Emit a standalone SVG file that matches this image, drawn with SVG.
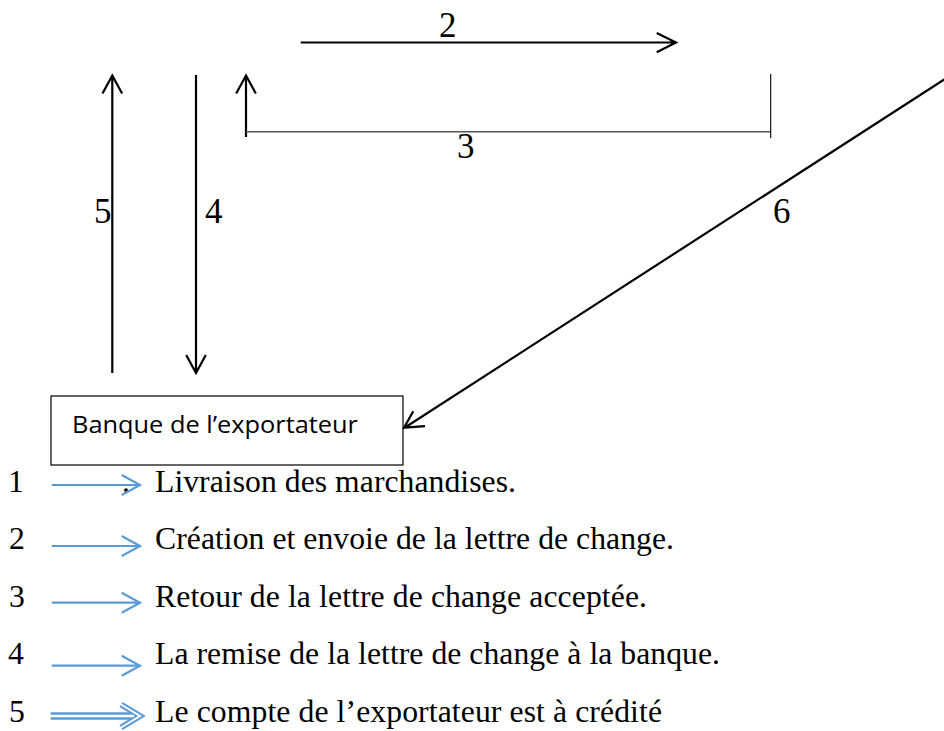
<svg xmlns="http://www.w3.org/2000/svg" width="944" height="731" viewBox="0 0 944 731">
<style>
  .serif { font-family: "Liberation Serif", "Times New Roman", serif; fill: #000; }
  .lbl { font-size: 35px; }
  .leg { font-size: 31.7px; }
  .blk { stroke: #000; stroke-width: 2.2; fill: none; stroke-linecap: butt; }
  .blue { stroke: #5B9BD5; stroke-width: 2.2; fill: none; }
</style>
<rect width="944" height="731" fill="#fff"/>

<g id="bank">
  <rect x="51" y="396" width="352" height="69" fill="#fff" stroke="#000" stroke-width="1.2"/>
  <text x="72" y="433" font-family="'Open Sans', 'Liberation Sans', sans-serif" font-size="23" textLength="286" lengthAdjust="spacingAndGlyphs">Banque de l’exportateur</text>
</g>

<g id="connectors">
  <!-- 5 up -->
  <path class="blk" d="M112.3 373 V76 M102.5 93.5 L112.3 75.5 L122.1 93.5"/>
  <!-- 4 down -->
  <path class="blk" d="M196 75 V372 M186.2 355 L196 373 L205.8 355"/>
  <!-- 3 up and bracket -->
  <path class="blk" d="M246 137 V76 M236.2 93.5 L246 75.5 L255.8 93.5"/>
  <line x1="246" y1="131.7" x2="770.7" y2="131.7" stroke="#555" stroke-width="1.6"/>
  <line x1="770.7" y1="74" x2="770.7" y2="138" stroke="#000" stroke-width="1.1"/>
  <!-- 2 right -->
  <path class="blk" d="M300.7 42.5 H675 M656.7 33 L676 42.5 L656.7 52.3"/>
  <!-- 6 diagonal -->
  <path class="blk" stroke-width="2.5" d="M955 72.5 L405 427.5 M413.3 411.2 L404 427.7 L425 426.2"/>
</g>

<g id="labels" class="serif lbl">
  <text x="439" y="36.7">2</text>
  <text x="457" y="158">3</text>
  <text x="94" y="223">5</text>
  <text x="205" y="223">4</text>
  <text x="773" y="223">6</text>
</g>

<g id="legend" class="serif leg">
  <text x="8" y="491.7">1</text>
  <text x="9" y="549">2</text>
  <text x="9" y="606.7">3</text>
  <text x="8" y="664">4</text>
  <text x="9" y="721.7">5</text>
  <text x="122" y="491.7">.</text>
  <text x="155" y="491.7" textLength="361">Livraison des marchandises.</text>
  <text x="155" y="549" textLength="519">Création et envoie de la lettre de change.</text>
  <text x="155" y="606.7" textLength="492">Retour de la lettre de change acceptée.</text>
  <text x="155" y="664" textLength="565">La remise de la lettre de change à la banque.</text>
  <text x="155" y="721.7" textLength="507">Le compte de l’exportateur est à crédité</text>
</g>

<g id="legend-arrows">
  <path class="blue" d="M51.7 485 H139 M121.7 475 L140 485 L121.7 495"/>
  <path class="blue" d="M51.7 546 H139 M121.7 536 L140 546 L121.7 556"/>
  <path class="blue" d="M51.7 602.7 H139 M121.7 592.7 L140 602.7 L121.7 612.7"/>
  <path class="blue" d="M51.7 665.7 H139 M121.7 655.7 L140 665.7 L121.7 675.7"/>
  <path stroke="#5B9BD5" stroke-width="7.5" fill="none" d="M50.7 716 H136"/>
  <path stroke="#5B9BD5" stroke-width="6" fill="none" stroke-linejoin="miter" d="M121 704.5 L140 716 L121 727.5"/>
  <path stroke="#fff" stroke-width="2.4" fill="none" d="M50 716 H134"/>
  <path stroke="#fff" stroke-width="2" fill="none" stroke-linejoin="miter" d="M121 704.5 L140 716 L121 727.5"/>
</g>
</svg>
